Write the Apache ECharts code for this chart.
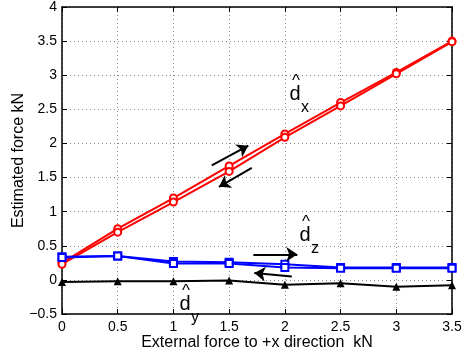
<!DOCTYPE html>
<html><head><meta charset="utf-8">
<script src="https://cdn.jsdelivr.net/npm/echarts@6/dist/echarts.min.js"></script>
<style>html,body{margin:0;padding:0;background:#fff}#c{width:471px;height:355px}</style>
</head><body><div id="c"></div>
<script>
// External force values (kN)
const forceX = [0, 0.5, 1, 1.5, 2, 2.5, 3, 3.5];
// Estimated d^x (loading / unloading)
const dxUp   = [0.25, 0.75, 1.20, 1.67, 2.14, 2.60, 3.04, 3.50];
const dxDown = [0.23, 0.70, 1.14, 1.59, 2.09, 2.55, 3.02, 3.49];
// Estimated d^z
const dzUp   = [0.34, 0.35, 0.27, 0.26, 0.23, 0.18, 0.18, 0.18];
const dzDown = [0.33, 0.35, 0.24, 0.24, 0.18, 0.17, 0.17, 0.17];
// Estimated d^y
const dyVals = [-0.03, -0.02, -0.02, -0.01, -0.07, -0.05, -0.10, -0.08];
// Annotation arrows in data units: [x1, y1, x2, y2] (head at x2,y2)
const arrows = [
  [1.344, 1.68, 1.672, 1.968],
  [1.703, 1.642, 1.409, 1.364],
  [1.717, 0.374, 2.112, 0.374],
  [2.062, 0.048, 1.726, 0.100]
];
// Annotation labels in data units
const labelPos = [[2.092, 2.713], [2.181, 0.656], [1.104, -0.357]];
const labelSub = ['x', 'z', 'y'];

const FONT = 'Liberation Sans, Arial, Helvetica, sans-serif';
const pairs = v => forceX.map((x, i) => [x, v[i]]);

const chart = echarts.init(document.getElementById('c'), null, {renderer: 'canvas'});

const axisCommon = {
  axisLine: {show: true, onZero: false, lineStyle: {color: '#000', width: 1.5}},
  axisTick: {show: true, inside: true, length: 5, lineStyle: {color: '#000', width: 1}},
};

const option = {
  animation: false,
  backgroundColor: '#fff',
  grid: {left: 62, right: 19, top: 7, bottom: 41, containLabel: false, outerBoundsMode: 'none'},
  xAxis: [
    Object.assign({
      type: 'value', min: 0, max: 3.5, interval: 0.5, position: 'bottom',
      axisLabel: {color: '#000', fontSize: 14, fontFamily: FONT, margin: 6},
      splitLine: {show: true, lineStyle: {color: '#888', type: [1, 3], width: 1}},
      name: 'External force to +x direction  kN', nameLocation: 'middle', nameGap: 21,
      nameMoveOverlap: false,
      nameTextStyle: {color: '#000', fontSize: 16, fontFamily: FONT}
    }, axisCommon),
    Object.assign({
      type: 'value', min: 0, max: 3.5, interval: 0.5, position: 'top',
      axisLabel: {show: false}, splitLine: {show: false}
    }, axisCommon)
  ],
  yAxis: [
    Object.assign({
      type: 'value', min: -0.5, max: 4, interval: 0.5, position: 'left',
      axisLabel: {color: '#000', fontSize: 14, fontFamily: FONT, margin: 5,
        formatter: v => String(v).replace('-', '\u2212')},
      splitLine: {show: true, lineStyle: {color: '#888', type: [1, 3], width: 1}},
      name: 'Estimated force kN', nameLocation: 'middle', nameGap: 35,
      nameMoveOverlap: false,
      nameTextStyle: {color: '#000', fontSize: 16, fontFamily: FONT}
    }, axisCommon),
    Object.assign({
      type: 'value', min: -0.5, max: 4, interval: 0.5, position: 'right',
      axisLabel: {show: false}, splitLine: {show: false}
    }, axisCommon)
  ],
  series: [
    {type: 'line', data: pairs(dxUp), color: '#ff0000', lineStyle: {width: 2},
     symbol: 'emptyCircle', symbolSize: 7, itemStyle: {borderWidth: 1.5}},
    {type: 'line', data: pairs(dxDown), color: '#ff0000', lineStyle: {width: 2},
     symbol: 'emptyCircle', symbolSize: 7, itemStyle: {borderWidth: 1.5}},
    {type: 'line', data: pairs(dzUp), color: '#0000ff', lineStyle: {width: 2},
     symbol: 'emptyRect', symbolSize: 7, itemStyle: {borderWidth: 1.5}},
    {type: 'line', data: pairs(dzDown), color: '#0000ff', lineStyle: {width: 2},
     symbol: 'emptyRect', symbolSize: 7, itemStyle: {borderWidth: 1.5}},
    {type: 'line', data: pairs(dyVals), color: '#000', lineStyle: {width: 2},
     symbol: 'triangle', symbolSize: 8,
     markLine: {
       silent: true, animation: false,
       symbol: ['none', 'arrow'], symbolSize: 11,
       label: {show: false},
       emphasis: {disabled: true},
       lineStyle: {color: '#000', width: 2, type: 'solid'},
       itemStyle: {color: '#000'},
       data: arrows.map(a => [
         {coord: [a[0], a[1]], symbol: 'none'},
         {coord: [a[2], a[3]], symbol: 'arrow', symbolSize: 11}
       ])
     }},
    {type: 'custom', data: labelPos, silent: true, z: 10,
     renderItem: (params, api) => {
       const p = api.coord([api.value(0), api.value(1)]);
       return {type: 'group', children: [
         {type: 'text', x: p[0], y: p[1], style: {text: 'd', font: '20px ' + FONT, fill: '#000', align: 'center', verticalAlign: 'middle'}},
         {type: 'text', x: p[0] + 1, y: p[1] - 13, style: {text: '^', font: '17px ' + FONT, fill: '#000', align: 'center', verticalAlign: 'middle'}},
         {type: 'text', x: p[0] + 10, y: p[1] + 13, style: {text: labelSub[params.dataIndex], font: '16px ' + FONT, fill: '#000', align: 'center', verticalAlign: 'middle'}}
       ]};
     }}
  ]
};
chart.setOption(option);
</script>
</body></html>
